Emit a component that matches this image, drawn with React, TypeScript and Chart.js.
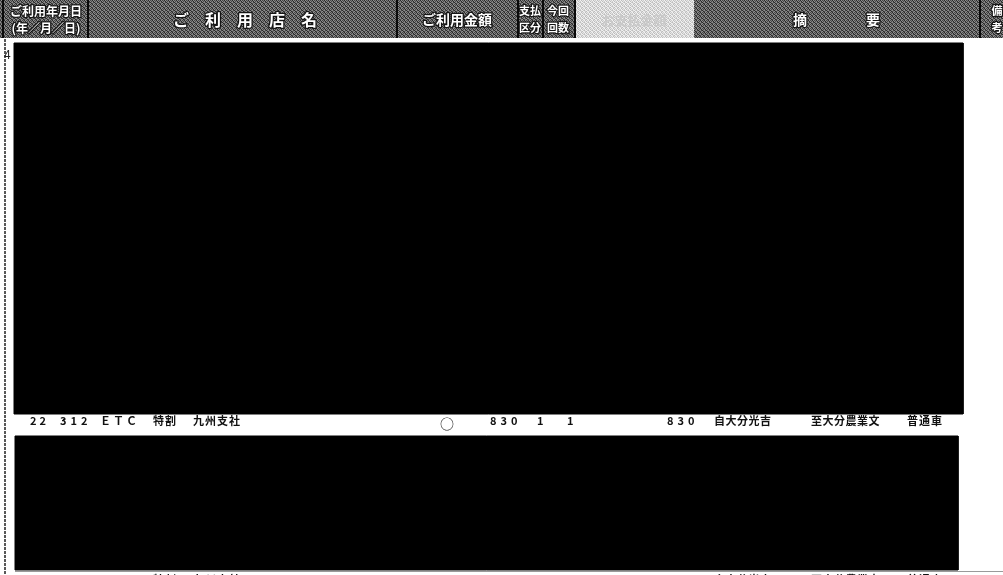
import React, { useEffect, useRef } from "react";
import { Chart, registerables } from "chart.js";

Chart.register(...registerables);

// ---- page extent (scan coordinates) ----
const pageWidth = 1003;
const pageHeight = 575;

// ---- redaction blocks ----
const blockLeft = [14, 15];
const blockRight = [963, 958];
const blockTop = [43, 436];
const blockBottom = [414, 570];

// ---- header bands ----
const headerBottom = 39;
const bandStart = [0, 575, 694];
const bandEnd = [575, 694, 1003];
const bandTone = ["dark", "light", "dark"];

// ---- header column dividers ----
const dividerX = [3, 88, 397, 518, 543, 575, 980];

// ---- header captions ----
const headerCaptions = [
  "ご利用年月日",
  "(年／月／日)",
  "ご　利　用　店　名",
  "ご利用金額",
  "支払",
  "区分",
  "今回",
  "回数",
  "お支払金額",
  "摘",
  "要",
  "備",
  "考",
];
const headerCaptionX = [46, 46, 245, 457, 530, 530, 558, 558, 634, 800, 873, 997, 997];
const headerCaptionY = [11, 28, 20, 20, 11, 28, 11, 28, 20, 20, 20, 11, 28];
const headerCaptionSize = [12, 12, 16, 14, 11, 11, 11, 11, 13, 14, 14, 11, 11];

// ---- visible statement row ----
const rowFields = [
  "22",
  "312",
  "ＥＴＣ",
  "特割",
  "九州支社",
  "○",
  "830",
  "1",
  "1",
  "830",
  "自大分光吉",
  "至大分農業文",
  "普通車",
];
const rowFieldX = [30, 60, 100, 153, 193, 440, 490, 537, 567, 667, 714, 811, 907];
const rowFieldSpacing = [3, 4, 2, 1, 1, 0, 4, 0, 0, 4, 0.5, 0.5, 1];
const rowY = 421;
const nextRowY = 580;

function makeDither(dark: boolean): CanvasPattern | string {
  const c = document.createElement("canvas");
  c.width = 4;
  c.height = 4;
  const g = c.getContext("2d");
  if (!g) return dark ? "#5e5e5e" : "#dedede";
  const darkPal = ["#2a2a2a", "#8e8e8e", "#474747", "#7a7a7a"];
  const lightPal = ["#f2f2f2", "#bdbdbd", "#e6e6e6", "#cdcdcd"];
  const pal = dark ? darkPal : lightPal;
  const order = [0, 1, 2, 3, 3, 0, 1, 2, 1, 2, 0, 3, 2, 3, 1, 0];
  for (let i = 0; i < 16; i++) {
    g.fillStyle = pal[order[i]];
    g.fillRect(i % 4, Math.floor(i / 4), 1, 1);
  }
  const p = g.createPattern(c, "repeat");
  return p || (dark ? "#5e5e5e" : "#dedede");
}

function rect(x0: number, x1: number, y0: number, y1: number) {
  return [
    { x: x0, y: y0 },
    { x: x1, y: y0 },
    { x: x1, y: y1 },
    { x: x0, y: y1 },
    { x: x0, y: y0 },
  ];
}

const JP = '"Noto Sans CJK JP", "Noto Sans", sans-serif';

const textPlugin = {
  id: "docText",
  afterDatasetsDraw(chart: any) {
    const { ctx } = chart;
    const xs = chart.scales.x;
    const ys = chart.scales.y;
    ctx.save();
    ctx.textBaseline = "middle";
    // header captions
    headerCaptions.forEach((t, i) => {
      const px = xs.getPixelForValue(headerCaptionX[i]);
      const py = ys.getPixelForValue(headerCaptionY[i]);
      ctx.font = `bold ${headerCaptionSize[i]}px ${JP}`;
      ctx.textAlign = "center";
      if (t === "お支払金額") {
        ctx.fillStyle = "rgba(200,200,200,0.9)";
        ctx.fillText(t, px, py);
      } else {
        ctx.lineJoin = "round";
        ctx.lineWidth = 2.5;
        ctx.strokeStyle = "#151515";
        ctx.strokeText(t, px, py);
        ctx.fillStyle = "#ffffff";
        ctx.fillText(t, px, py);
      }
    });
    // statement row + partially visible next row
    ctx.textAlign = "left";
    ctx.fillStyle = "#111111";
    [rowY, nextRowY].forEach((ry) => {
      rowFields.forEach((t, i) => {
        const px = xs.getPixelForValue(rowFieldX[i]);
        const py = ys.getPixelForValue(t === "○" ? ry + 3 : ry);
        ctx.font = t === "○" ? `14px ${JP}` : `bold 11px ${JP}`;
        (ctx as any).letterSpacing = `${rowFieldSpacing[i]}px`;
        ctx.fillText(t, px, py);
      });
    });
    (ctx as any).letterSpacing = "0px";
    // page number fragment at the left edge
    ctx.font = `12px ${JP}`;
    ctx.fillStyle = "#222";
    ctx.fillText("4", xs.getPixelForValue(4), ys.getPixelForValue(54));
    ctx.restore();
  },
};

export default function App() {
  const ref = useRef<HTMLCanvasElement | null>(null);

  useEffect(() => {
    if (!ref.current) return;
    const datasets: any[] = [];

    bandStart.forEach((s, i) => {
      const fillStyle = makeDither(bandTone[i] === "dark");
      datasets.push({
        label: `header-${i}`,
        data: rect(s, bandEnd[i], 0, headerBottom),
        showLine: true,
        fill: "shape",
        backgroundColor: fillStyle,
        borderColor: "rgba(0,0,0,0)",
        borderWidth: 0,
        pointRadius: 0,
        order: 10,
      });
    });

    dividerX.forEach((dx, i) => {
      datasets.push({
        label: `divider-${i}`,
        data: [
          { x: dx, y: 0 },
          { x: dx, y: headerBottom },
        ],
        showLine: true,
        fill: false,
        borderColor: "#0a0a0a",
        borderWidth: 2,
        pointRadius: 0,
        order: 5,
      });
    });

    // white gap under header
    datasets.push({
      label: "header-rule",
      data: [
        { x: 0, y: headerBottom },
        { x: pageWidth, y: headerBottom },
      ],
      showLine: true,
      fill: false,
      borderColor: "#ffffff",
      borderWidth: 2,
      pointRadius: 0,
      order: 4,
    });

    // dotted left border
    datasets.push({
      label: "left-border",
      data: [
        { x: 5, y: headerBottom },
        { x: 5, y: pageHeight },
      ],
      showLine: true,
      fill: false,
      borderColor: "#222222",
      borderWidth: 1.5,
      borderDash: [3, 1],
      pointRadius: 0,
      order: 3,
    });

    blockLeft.forEach((x0, i) => {
      datasets.push({
        label: `block-${i}`,
        data: rect(x0, blockRight[i], blockTop[i], blockBottom[i]),
        showLine: true,
        fill: "shape",
        backgroundColor: "#000000",
        borderColor: "#000000",
        borderWidth: 1,
        pointRadius: 0,
        order: 2,
      });
    });

    // thin grey rule under the last block
    datasets.push({
      label: "bottom-rule",
      data: [
        { x: 15, y: 571.5 },
        { x: pageWidth, y: 571.5 },
      ],
      showLine: true,
      fill: false,
      borderColor: "#9a9a9a",
      borderWidth: 1,
      pointRadius: 0,
      order: 1,
    });

    const chart = new Chart(ref.current, {
      type: "scatter",
      data: { datasets },
      options: {
        animation: false,
        responsive: true,
        maintainAspectRatio: false,
        layout: { padding: 0 },
        elements: { line: { tension: 0 } },
        plugins: {
          legend: { display: false },
          tooltip: { enabled: false },
        },
        events: [],
        scales: {
          x: { type: "linear", min: 0, max: pageWidth, display: false },
          y: { type: "linear", min: 0, max: pageHeight, reverse: true, display: false },
        },
      },
      plugins: [textPlugin],
    });
    return () => chart.destroy();
  }, []);

  return (
    <div
      style={{
        position: "fixed",
        left: 0,
        top: 0,
        width: pageWidth,
        height: pageHeight,
        background: "#ffffff",
      }}
    >
      <canvas ref={ref} />
    </div>
  );
}
